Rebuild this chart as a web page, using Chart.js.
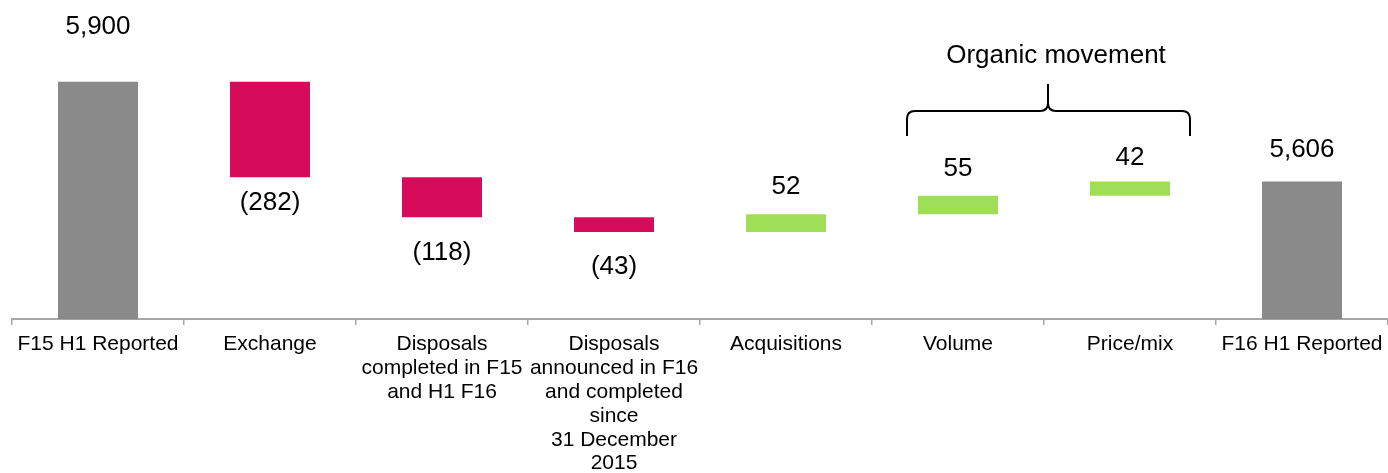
<!DOCTYPE html>
<html>
<head>
<meta charset="utf-8">
<script src="https://cdn.jsdelivr.net/npm/chart.js@4/dist/chart.umd.min.js"></script>
<style>
  html, body { margin: 0; padding: 0; background: #fff; }
  canvas { display: block; }
</style>
</head>
<body>
<canvas id="bridgeChart" width="1388" height="473"></canvas>
<script>
// data
const categories = [
    ['F15 H1 Reported'],
    ['Exchange'],
    ['Disposals', 'completed in F15', 'and H1 F16'],
    ['Disposals', 'announced in F16', 'and completed', 'since', '31 December', '2015'],
    ['Acquisitions'],
    ['Volume'],
    ['Price/mix'],
    ['F16 H1 Reported']
];
const movements = [5900, -282, -118, -43, 52, 55, 42, 5606];
const isTotal = [true, false, false, false, false, false, false, true];
const valueLabels = ['5,900', '(282)', '(118)', '(43)', '52', '55', '42', '5,606'];
const axisMin = 5200;
const axisMax = 6100;

// distance from bar edge to label centre (px)
const labelGap = [55, 25, 35, 35, 27, 27, 24, 32];

const grey = '#8a8a8a';
const pink = '#d60c5a';
const green = '#a1de58';

// floating bars for the waterfall
let running = 0;
const ranges = movements.map((v, i) => {
    if (isTotal[i]) {
        running = v;
        return [axisMin, v];
    }
    const r = [running, running + v];
    running += v;
    return r;
});
const colors = movements.map((v, i) => isTotal[i] ? grey : (v < 0 ? pink : green));

const valueLabelPlugin = {
    id: 'valueLabels',
    afterDatasetsDraw(chart) {
        const ctx = chart.ctx;
        const meta = chart.getDatasetMeta(0);
        ctx.save();
        ctx.font = '26px "Liberation Sans", Arial, sans-serif';
        ctx.fillStyle = '#000';
        ctx.textAlign = 'center';
        ctx.textBaseline = 'middle';
        meta.data.forEach((bar, i) => {
            const p = bar.getProps(['x', 'y', 'base'], true);
            const top = Math.min(p.y, p.base);
            const bottom = Math.max(p.y, p.base);
            const y = (movements[i] < 0) ? bottom + labelGap[i] : top - labelGap[i];
            ctx.fillText(valueLabels[i], p.x, y);
        });
        ctx.restore();
    }
};

const bracePlugin = {
    id: 'organicBrace',
    afterDraw(chart) {
        const ctx = chart.ctx;
        const x = chart.scales.x;
        const xl = x.getPixelForValue(5) - 51;
        const xr = x.getPixelForValue(6) + 60;
        const xm = (x.getPixelForValue(5) + x.getPixelForValue(6)) / 2 + 4;
        const yTop = 84, yBar = 111, yEnd = 136, r = 8;

        ctx.save();
        ctx.strokeStyle = '#000';
        ctx.lineWidth = 2;
        ctx.beginPath();
        ctx.moveTo(xl, yEnd);
        ctx.lineTo(xl, yBar + r);
        ctx.quadraticCurveTo(xl, yBar, xl + r, yBar);
        ctx.lineTo(xm - r, yBar);
        ctx.quadraticCurveTo(xm, yBar, xm, yBar - r);
        ctx.lineTo(xm, yTop);
        ctx.moveTo(xm, yBar - r);
        ctx.quadraticCurveTo(xm, yBar, xm + r, yBar);
        ctx.lineTo(xr - r, yBar);
        ctx.quadraticCurveTo(xr, yBar, xr, yBar + r);
        ctx.lineTo(xr, yEnd);
        ctx.stroke();

        ctx.font = '26px "Liberation Sans", Arial, sans-serif';
        ctx.fillStyle = '#000';
        ctx.textAlign = 'center';
        ctx.textBaseline = 'middle';
        ctx.fillText('Organic movement', 1056, 56);
        ctx.restore();
    }
};

new Chart(document.getElementById('bridgeChart'), {
    type: 'bar',
    data: {
        labels: categories,
        datasets: [{
            data: ranges,
            backgroundColor: colors,
            borderWidth: 0,
            categoryPercentage: 1,
            barPercentage: 0.465
        }]
    },
    options: {
        responsive: false,
        devicePixelRatio: 1,
        animation: false,
        layout: { padding: { left: 12, right: 0, top: 14, bottom: 0 } },
        plugins: {
            legend: { display: false },
            tooltip: { enabled: false }
        },
        scales: {
            x: {
                afterFit: scale => {
                    scale.height = 154;
                    scale.paddingLeft = 0;
                    scale.paddingRight = 0;
                },
                grid: {
                    drawOnChartArea: false,
                    drawTicks: true,
                    tickLength: 6,
                    color: '#a6a6a6',
                    lineWidth: 1.5
                },
                border: { color: '#a6a6a6', width: 2 },
                ticks: {
                    autoSkip: false,
                    maxRotation: 0,
                    minRotation: 0,
                    padding: 7,
                    color: '#000',
                    font: { family: '"Liberation Sans", Arial, sans-serif', size: 21, lineHeight: 1.14 }
                }
            },
            y: {
                display: false,
                min: axisMin,
                max: axisMax
            }
        }
    },
    plugins: [valueLabelPlugin, bracePlugin]
});
</script>
</body>
</html>
